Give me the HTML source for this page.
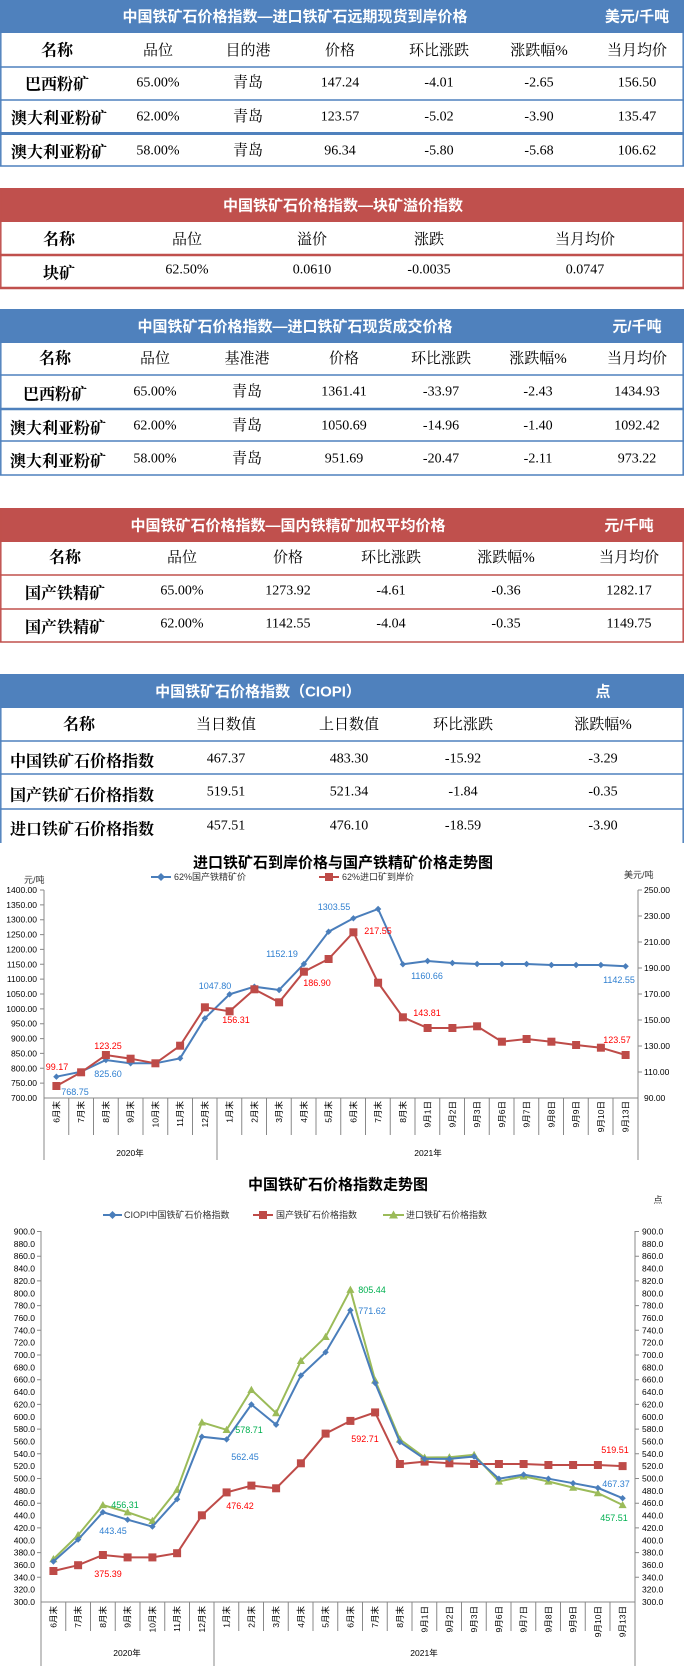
<!DOCTYPE html>
<html><head><meta charset="utf-8"><style>
html,body{margin:0;padding:0;background:#fff;}
svg{display:block;}
.t{font-family:"Liberation Sans","Noto Sans CJK SC",sans-serif;font-weight:bold;font-size:15px;fill:#fff;}
.h{font-family:"Liberation Serif","Noto Serif CJK SC",serif;font-size:15px;fill:#000;}
.n{font-family:"Liberation Serif","Noto Serif CJK SC",serif;font-size:16px;font-weight:bold;fill:#000;}
.d{font-family:"Liberation Serif","Noto Serif CJK SC",serif;font-size:14px;fill:#000;}
.ax{font-family:"Liberation Sans","Noto Sans CJK SC",sans-serif;font-size:8.5px;fill:#000;}
.ct{font-family:"Liberation Sans","Noto Sans CJK SC",sans-serif;font-size:15px;font-weight:bold;fill:#000;}
.lg{font-family:"Liberation Sans","Noto Sans CJK SC",sans-serif;font-size:9px;fill:#333;}
.lb{font-family:"Liberation Sans",sans-serif;font-size:9px;}
</style></head><body>
<svg width="684" height="1666" viewBox="0 0 684 1666" xmlns="http://www.w3.org/2000/svg">
<defs>
<marker id="dm" viewBox="-5 -5 10 10" markerWidth="8" markerHeight="8" refX="0" refY="0" markerUnits="userSpaceOnUse"><path d="M0,-4L4,0L0,4L-4,0Z" fill="#4a7ebb"/></marker>
<marker id="sm" viewBox="-5 -5 10 10" markerWidth="10" markerHeight="10" refX="0" refY="0" markerUnits="userSpaceOnUse"><rect x="-4" y="-4" width="8" height="8" fill="#be4b48"/></marker>
<marker id="tm" viewBox="-5 -5 10 10" markerWidth="9" markerHeight="9" refX="0" refY="0" markerUnits="userSpaceOnUse"><path d="M0,-4.5L4.5,3.5L-4.5,3.5Z" fill="#9bbb59"/></marker>
</defs>
<g dominant-baseline="central" text-anchor="middle">
<!-- Table 1 -->
<rect x="0" y="0" width="684" height="33" fill="#4f81bd"/>
<text class="t" x="295" y="17">中国铁矿石价格指数—进口铁矿石远期现货到岸价格</text>
<text class="t" x="637" y="17">美元/千吨</text>
<g stroke="#4f81bd" stroke-width="1.5"><line x1="0.8" y1="0" x2="0.8" y2="166"/><line x1="683.2" y1="0" x2="683.2" y2="166"/><line x1="0" y1="67" x2="684" y2="67"/><line x1="0" y1="100" x2="684" y2="100"/><line x1="0" y1="133.5" x2="684" y2="133.5" stroke-width="3"/><line x1="0" y1="166" x2="684" y2="166"/></g>
<text class="n" x="57" y="51">名称</text><text class="h" x="158" y="51">品位</text><text class="h" x="248" y="51">目的港</text><text class="h" x="340" y="51">价格</text><text class="h" x="439" y="51">环比涨跌</text><text class="h" x="539" y="51">涨跌幅%</text><text class="h" x="637" y="51">当月均价</text>
<text class="n" x="57" y="85">巴西粉矿</text><text class="d" x="158" y="83">65.00%</text><text class="h" x="248" y="83">青岛</text><text class="d" x="340" y="83">147.24</text><text class="d" x="439" y="83">-4.01</text><text class="d" x="539" y="83">-2.65</text><text class="d" x="637" y="83">156.50</text>
<text class="n" x="11" y="119" text-anchor="start">澳大利亚粉矿</text><text class="d" x="158" y="117">62.00%</text><text class="h" x="248" y="117">青岛</text><text class="d" x="340" y="117">123.57</text><text class="d" x="439" y="117">-5.02</text><text class="d" x="539" y="117">-3.90</text><text class="d" x="637" y="117">135.47</text>
<text class="n" x="11" y="153" text-anchor="start">澳大利亚粉矿</text><text class="d" x="158" y="151">58.00%</text><text class="h" x="248" y="151">青岛</text><text class="d" x="340" y="151">96.34</text><text class="d" x="439" y="151">-5.80</text><text class="d" x="539" y="151">-5.68</text><text class="d" x="637" y="151">106.62</text>
<!-- Table 2 -->
<rect x="0" y="188" width="684" height="34" fill="#c0504d"/>
<text class="t" x="343" y="206">中国铁矿石价格指数—块矿溢价指数</text>
<g stroke="#c0504d" stroke-width="1.5"><line x1="0.8" y1="188" x2="0.8" y2="288"/><line x1="683.2" y1="188" x2="683.2" y2="288"/><line x1="0" y1="255" x2="684" y2="255" stroke-width="2.5"/><line x1="0" y1="288" x2="684" y2="288" stroke-width="2.5"/></g>
<text class="n" x="59" y="240">名称</text><text class="h" x="187" y="240">品位</text><text class="h" x="312" y="240">溢价</text><text class="h" x="429" y="240">涨跌</text><text class="h" x="585" y="240">当月均价</text>
<text class="n" x="59" y="274">块矿</text><text class="d" x="187" y="270">62.50%</text><text class="d" x="312" y="270">0.0610</text><text class="d" x="429" y="270">-0.0035</text><text class="d" x="585" y="270">0.0747</text>
<!-- Table 3 -->
<rect x="0" y="309" width="684" height="34" fill="#4f81bd"/>
<text class="t" x="295" y="327">中国铁矿石价格指数—进口铁矿石现货成交价格</text>
<text class="t" x="637" y="327">元/千吨</text>
<g stroke="#4f81bd" stroke-width="1.5"><line x1="0.8" y1="309" x2="0.8" y2="475"/><line x1="683.2" y1="309" x2="683.2" y2="475"/><line x1="0" y1="375" x2="684" y2="375"/><line x1="0" y1="409" x2="684" y2="409" stroke-width="2.5"/><line x1="0" y1="441" x2="684" y2="441"/><line x1="0" y1="475" x2="684" y2="475"/></g>
<text class="n" x="55" y="359">名称</text><text class="h" x="155" y="359">品位</text><text class="h" x="247" y="359">基准港</text><text class="h" x="344" y="359">价格</text><text class="h" x="441" y="359">环比涨跌</text><text class="h" x="538" y="359">涨跌幅%</text><text class="h" x="637" y="359">当月均价</text>
<text class="n" x="55" y="395">巴西粉矿</text><text class="d" x="155" y="392">65.00%</text><text class="h" x="247" y="392">青岛</text><text class="d" x="344" y="392">1361.41</text><text class="d" x="441" y="392">-33.97</text><text class="d" x="538" y="392">-2.43</text><text class="d" x="637" y="392">1434.93</text>
<text class="n" x="10" y="429" text-anchor="start">澳大利亚粉矿</text><text class="d" x="155" y="426">62.00%</text><text class="h" x="247" y="426">青岛</text><text class="d" x="344" y="426">1050.69</text><text class="d" x="441" y="426">-14.96</text><text class="d" x="538" y="426">-1.40</text><text class="d" x="637" y="426">1092.42</text>
<text class="n" x="10" y="462" text-anchor="start">澳大利亚粉矿</text><text class="d" x="155" y="459">58.00%</text><text class="h" x="247" y="459">青岛</text><text class="d" x="344" y="459">951.69</text><text class="d" x="441" y="459">-20.47</text><text class="d" x="538" y="459">-2.11</text><text class="d" x="637" y="459">973.22</text>
<!-- Table 4 -->
<rect x="0" y="508" width="684" height="34" fill="#c0504d"/>
<text class="t" x="288" y="526">中国铁矿石价格指数—国内铁精矿加权平均价格</text>
<text class="t" x="629" y="526">元/千吨</text>
<g stroke="#c0504d" stroke-width="1.5"><line x1="0.8" y1="508" x2="0.8" y2="642"/><line x1="683.2" y1="508" x2="683.2" y2="642"/><line x1="0" y1="575" x2="684" y2="575"/><line x1="0" y1="609" x2="684" y2="609"/><line x1="0" y1="642" x2="684" y2="642"/></g>
<text class="n" x="65" y="558">名称</text><text class="h" x="182" y="558">品位</text><text class="h" x="288" y="558">价格</text><text class="h" x="391" y="558">环比涨跌</text><text class="h" x="506" y="558">涨跌幅%</text><text class="h" x="629" y="558">当月均价</text>
<text class="n" x="65" y="594">国产铁精矿</text><text class="d" x="182" y="591">65.00%</text><text class="d" x="288" y="591">1273.92</text><text class="d" x="391" y="591">-4.61</text><text class="d" x="506" y="591">-0.36</text><text class="d" x="629" y="591">1282.17</text>
<text class="n" x="65" y="628">国产铁精矿</text><text class="d" x="182" y="624">62.00%</text><text class="d" x="288" y="624">1142.55</text><text class="d" x="391" y="624">-4.04</text><text class="d" x="506" y="624">-0.35</text><text class="d" x="629" y="624">1149.75</text>
<!-- Table 5 -->
<rect x="0" y="674" width="684" height="34" fill="#4f81bd"/>
<text class="t" x="258" y="692">中国铁矿石价格指数（CIOPI）</text>
<text class="t" x="603" y="692">点</text>
<g stroke="#4f81bd" stroke-width="1.5"><line x1="0.8" y1="674" x2="0.8" y2="843"/><line x1="683.2" y1="674" x2="683.2" y2="843"/><line x1="0" y1="741" x2="684" y2="741"/><line x1="0" y1="774" x2="684" y2="774"/><line x1="0" y1="809" x2="684" y2="809"/></g>
<text class="n" x="79" y="725">名称</text><text class="h" x="226" y="725">当日数值</text><text class="h" x="349" y="725">上日数值</text><text class="h" x="463" y="725">环比涨跌</text><text class="h" x="603" y="725">涨跌幅%</text>
<text class="n" x="10" y="762" text-anchor="start">中国铁矿石价格指数</text><text class="d" x="226" y="759">467.37</text><text class="d" x="349" y="759">483.30</text><text class="d" x="463" y="759">-15.92</text><text class="d" x="603" y="759">-3.29</text>
<text class="n" x="10" y="796" text-anchor="start">国产铁矿石价格指数</text><text class="d" x="226" y="792">519.51</text><text class="d" x="349" y="792">521.34</text><text class="d" x="463" y="792">-1.84</text><text class="d" x="603" y="792">-0.35</text>
<text class="n" x="10" y="830" text-anchor="start">进口铁矿石价格指数</text><text class="d" x="226" y="826">457.51</text><text class="d" x="349" y="826">476.10</text><text class="d" x="463" y="826">-18.59</text><text class="d" x="603" y="826">-3.90</text>
</g>

<!-- Chart 1 -->
<g dominant-baseline="central">
<text class="ct" x="343" y="863" text-anchor="middle">进口铁矿石到岸价格与国产铁精矿价格走势图</text>
<line x1="151" y1="877" x2="171" y2="877" stroke="#4a7ebb" stroke-width="2"/><path d="M161,873L165,877L161,881L157,877Z" fill="#4a7ebb"/>
<text class="lg" x="174" y="877">62%国产铁精矿价</text>
<line x1="319" y1="877" x2="339" y2="877" stroke="#be4b48" stroke-width="2"/><rect x="325" y="873" width="8" height="8" fill="#be4b48"/>
<text class="lg" x="342" y="877">62%进口矿到岸价</text>
<text class="lg" x="24" y="880">元/吨</text>
<text class="lg" x="624" y="875">美元/吨</text>
<g stroke="#888" stroke-width="1" fill="none">
<line x1="44" y1="890" x2="44" y2="1160"/><line x1="638" y1="890" x2="638" y2="1160"/><line x1="44" y1="1098" x2="638" y2="1098"/><line x1="217" y1="1098" x2="217" y2="1160"/>
</g>
<g class="ax" text-anchor="end">
<text x="37" y="890">1400.00</text><text x="37" y="904.9">1350.00</text><text x="37" y="919.7">1300.00</text><text x="37" y="934.6">1250.00</text><text x="37" y="949.4">1200.00</text><text x="37" y="964.3">1150.00</text><text x="37" y="979.1">1100.00</text><text x="37" y="994">1050.00</text><text x="37" y="1008.9">1000.00</text><text x="37" y="1023.7">950.00</text><text x="37" y="1038.6">900.00</text><text x="37" y="1053.4">850.00</text><text x="37" y="1068.3">800.00</text><text x="37" y="1083.1">750.00</text><text x="37" y="1098">700.00</text>
</g>
<g class="ax"><text x="644" y="890">250.00</text><text x="644" y="916">230.00</text><text x="644" y="942">210.00</text><text x="644" y="968">190.00</text><text x="644" y="994">170.00</text><text x="644" y="1020">150.00</text><text x="644" y="1046">130.00</text><text x="644" y="1072">110.00</text><text x="644" y="1098">90.00</text></g>
<path stroke="#888" d="M40,890H44M40,904.9H44M40,919.7H44M40,934.6H44M40,949.4H44M40,964.3H44M40,979.1H44M40,994H44M40,1008.9H44M40,1023.7H44M40,1038.6H44M40,1053.4H44M40,1068.3H44M40,1083.1H44M638,890H642M638,916H642M638,942H642M638,968H642M638,994H642M638,1020H642M638,1046H642M638,1072H642M68.75,1098V1135M93.5,1098V1135M118.25,1098V1135M143,1098V1135M167.75,1098V1135M192.5,1098V1135M241.75,1098V1135M266.5,1098V1135M291.25,1098V1135M316,1098V1135M340.75,1098V1135M365.5,1098V1135M390.25,1098V1135M415,1098V1135M439.75,1098V1135M464.5,1098V1135M489.25,1098V1135M514,1098V1135M538.75,1098V1135M563.5,1098V1135M588.25,1098V1135M613,1098V1135"/>
<polyline fill="none" stroke="#4a7ebb" stroke-width="2" marker-start="url(#dm)" marker-mid="url(#dm)" marker-end="url(#dm)" points="56.4,1076.7 81.1,1071.7 105.9,1060 130.6,1063.3 155.4,1063.3 180.1,1058.3 204.9,1018.3 229.6,994.3 254.4,986.7 279.1,990 303.9,964 328.6,931.7 353.4,918.3 378.1,909 402.9,964.3 427.6,961 452.4,963 477.1,964 501.9,964 526.6,964 551.4,965 576.1,965 600.9,965 625.6,966.3"/>
<polyline fill="none" stroke="#be4b48" stroke-width="2" marker-start="url(#sm)" marker-mid="url(#sm)" marker-end="url(#sm)" points="56.4,1086 81.1,1072.3 105.9,1055 130.6,1058.7 155.4,1063.3 180.1,1045.7 204.9,1007.3 229.6,1011.3 254.4,989.3 279.1,1002.3 303.9,971.7 328.6,959 353.4,932.3 378.1,982.7 402.9,1017.3 427.6,1028 452.4,1028 477.1,1026.3 501.9,1041.7 526.6,1039 551.4,1041.7 576.1,1045 600.9,1047.7 625.6,1055"/>
<g class="lb" text-anchor="middle" fill="#2f7fd0">
<text x="75" y="1092">768.75</text><text x="108" y="1074">825.60</text><text x="215" y="986">1047.80</text><text x="282" y="954">1152.19</text><text x="334" y="907">1303.55</text><text x="427" y="976">1160.66</text><text x="619" y="980">1142.55</text>
</g>
<g class="lb" text-anchor="middle" fill="#ff0000">
<text x="57" y="1067">99.17</text><text x="108" y="1046">123.25</text><text x="236" y="1020">156.31</text><text x="317" y="983">186.90</text><text x="378" y="931">217.55</text><text x="427" y="1013">143.81</text><text x="617" y="1040">123.57</text>
</g>
<g class="ax" text-anchor="end">
<text transform="translate(56.4,1101) rotate(-90)">6月末</text><text transform="translate(81.1,1101) rotate(-90)">7月末</text><text transform="translate(105.9,1101) rotate(-90)">8月末</text><text transform="translate(130.6,1101) rotate(-90)">9月末</text><text transform="translate(155.4,1101) rotate(-90)">10月末</text><text transform="translate(180.1,1101) rotate(-90)">11月末</text><text transform="translate(204.9,1101) rotate(-90)">12月末</text><text transform="translate(229.6,1101) rotate(-90)">1月末</text><text transform="translate(254.4,1101) rotate(-90)">2月末</text><text transform="translate(279.1,1101) rotate(-90)">3月末</text><text transform="translate(303.9,1101) rotate(-90)">4月末</text><text transform="translate(328.6,1101) rotate(-90)">5月末</text><text transform="translate(353.4,1101) rotate(-90)">6月末</text><text transform="translate(378.1,1101) rotate(-90)">7月末</text><text transform="translate(402.9,1101) rotate(-90)">8月末</text><text transform="translate(427.6,1101) rotate(-90)">9月1日</text><text transform="translate(452.4,1101) rotate(-90)">9月2日</text><text transform="translate(477.1,1101) rotate(-90)">9月3日</text><text transform="translate(501.9,1101) rotate(-90)">9月6日</text><text transform="translate(526.6,1101) rotate(-90)">9月7日</text><text transform="translate(551.4,1101) rotate(-90)">9月8日</text><text transform="translate(576.1,1101) rotate(-90)">9月9日</text><text transform="translate(600.9,1101) rotate(-90)">9月10日</text><text transform="translate(625.6,1101) rotate(-90)">9月13日</text>
</g>
<text class="ax" x="130" y="1153" text-anchor="middle">2020年</text>
<text class="ax" x="428" y="1153" text-anchor="middle">2021年</text>
</g>

<!-- Chart 2 -->
<g dominant-baseline="central">
<text class="ct" x="338" y="1185" text-anchor="middle">中国铁矿石价格指数走势图</text>
<text class="lg" x="658" y="1200" text-anchor="middle">点</text>
<line x1="103" y1="1215" x2="122" y2="1215" stroke="#4a7ebb" stroke-width="2"/><path d="M112.5,1211L116.5,1215L112.5,1219L108.5,1215Z" fill="#4a7ebb"/>
<text class="lg" x="124" y="1215">CIOPI中国铁矿石价格指数</text>
<line x1="253" y1="1215" x2="273" y2="1215" stroke="#be4b48" stroke-width="2"/><rect x="259" y="1211" width="8" height="8" fill="#be4b48"/>
<text class="lg" x="276" y="1215">国产铁矿石价格指数</text>
<line x1="383" y1="1215" x2="404" y2="1215" stroke="#9bbb59" stroke-width="2"/><path d="M393.5,1210.5L398,1218.5L389,1218.5Z" fill="#9bbb59"/>
<text class="lg" x="406" y="1215">进口铁矿石价格指数</text>
<g stroke="#888" stroke-width="1" fill="none">
<line x1="41" y1="1231" x2="41" y2="1666"/><line x1="635" y1="1231" x2="635" y2="1666"/><line x1="41" y1="1602" x2="635" y2="1602"/><line x1="214" y1="1602" x2="214" y2="1666"/>
</g>
<g class="ax" text-anchor="end" font-size="8">
<text x="35" y="1231.5">900.0</text><text x="35" y="1243.9">880.0</text><text x="35" y="1256.2">860.0</text><text x="35" y="1268.6">840.0</text><text x="35" y="1280.9">820.0</text><text x="35" y="1293.3">800.0</text><text x="35" y="1305.6">780.0</text><text x="35" y="1318">760.0</text><text x="35" y="1330.3">740.0</text><text x="35" y="1342.7">720.0</text><text x="35" y="1355">700.0</text><text x="35" y="1367.4">680.0</text><text x="35" y="1379.7">660.0</text><text x="35" y="1392.1">640.0</text><text x="35" y="1404.4">620.0</text><text x="35" y="1416.8">600.0</text><text x="35" y="1429.1">580.0</text><text x="35" y="1441.5">560.0</text><text x="35" y="1453.8">540.0</text><text x="35" y="1466.2">520.0</text><text x="35" y="1478.5">500.0</text><text x="35" y="1490.9">480.0</text><text x="35" y="1503.2">460.0</text><text x="35" y="1515.6">440.0</text><text x="35" y="1527.9">420.0</text><text x="35" y="1540.3">400.0</text><text x="35" y="1552.6">380.0</text><text x="35" y="1565">360.0</text><text x="35" y="1577.3">340.0</text><text x="35" y="1589.7">320.0</text><text x="35" y="1602">300.0</text>
</g>
<g class="ax" font-size="8">
<text x="642" y="1231.5">900.0</text><text x="642" y="1243.9">880.0</text><text x="642" y="1256.2">860.0</text><text x="642" y="1268.6">840.0</text><text x="642" y="1280.9">820.0</text><text x="642" y="1293.3">800.0</text><text x="642" y="1305.6">780.0</text><text x="642" y="1318">760.0</text><text x="642" y="1330.3">740.0</text><text x="642" y="1342.7">720.0</text><text x="642" y="1355">700.0</text><text x="642" y="1367.4">680.0</text><text x="642" y="1379.7">660.0</text><text x="642" y="1392.1">640.0</text><text x="642" y="1404.4">620.0</text><text x="642" y="1416.8">600.0</text><text x="642" y="1429.1">580.0</text><text x="642" y="1441.5">560.0</text><text x="642" y="1453.8">540.0</text><text x="642" y="1466.2">520.0</text><text x="642" y="1478.5">500.0</text><text x="642" y="1490.9">480.0</text><text x="642" y="1503.2">460.0</text><text x="642" y="1515.6">440.0</text><text x="642" y="1527.9">420.0</text><text x="642" y="1540.3">400.0</text><text x="642" y="1552.6">380.0</text><text x="642" y="1565">360.0</text><text x="642" y="1577.3">340.0</text><text x="642" y="1589.7">320.0</text><text x="642" y="1602">300.0</text>
</g>
<path stroke="#888" d="M37,1231.5H41M37,1256.2H41M37,1280.9H41M37,1305.6H41M37,1330.3H41M37,1355H41M37,1379.7H41M37,1404.4H41M37,1429.1H41M37,1453.8H41M37,1478.5H41M37,1503.2H41M37,1527.9H41M37,1552.6H41M37,1577.3H41M635,1231.5H639M635,1256.2H639M635,1280.9H639M635,1305.6H639M635,1330.3H639M635,1355H639M635,1379.7H639M635,1404.4H639M635,1429.1H639M635,1453.8H639M635,1478.5H639M635,1503.2H639M635,1527.9H639M635,1552.6H639M635,1577.3H639M65.75,1602V1631M90.5,1602V1631M115.25,1602V1631M140,1602V1631M164.75,1602V1631M189.5,1602V1631M238.75,1602V1631M263.5,1602V1631M288.25,1602V1631M313,1602V1631M337.75,1602V1631M362.5,1602V1631M387.25,1602V1631M412,1602V1631M436.75,1602V1631M461.5,1602V1631M486.25,1602V1631M511,1602V1631M535.75,1602V1631M560.5,1602V1631M585.25,1602V1631M610,1602V1631"/>
<polyline fill="none" stroke="#be4b48" stroke-width="2" marker-start="url(#sm)" marker-mid="url(#sm)" marker-end="url(#sm)" points="53.4,1571 78.1,1565.2 102.9,1555 127.6,1557.4 152.4,1557.4 177.1,1553.2 201.9,1515.3 226.6,1492.4 251.4,1485.6 276.1,1488.3 300.9,1463.3 325.6,1433.6 350.4,1420.9 375.1,1412.4 399.9,1464 424.6,1461.6 449.4,1463.3 474.1,1464 498.9,1464 523.6,1464 548.4,1465 573.1,1465 597.9,1465 622.6,1466.1"/>
<polyline fill="none" stroke="#9bbb59" stroke-width="2" marker-start="url(#tm)" marker-mid="url(#tm)" marker-end="url(#tm)" points="53.4,1559.1 78.1,1535.1 102.9,1505 127.6,1512.2 152.4,1520.8 177.1,1489.7 201.9,1422.3 226.6,1429.8 251.4,1389.8 276.1,1413.1 300.9,1360.8 325.6,1336.8 350.4,1289.7 375.1,1380.3 399.9,1439.4 424.6,1457.5 449.4,1457.2 474.1,1454.8 498.9,1481.5 523.6,1476.3 548.4,1481.5 573.1,1487.6 597.9,1493.1 622.6,1505"/>
<polyline fill="none" stroke="#4a7ebb" stroke-width="2" marker-start="url(#dm)" marker-mid="url(#dm)" marker-end="url(#dm)" points="53.4,1561.5 78.1,1539.6 102.9,1512.2 127.6,1519.7 152.4,1526.6 177.1,1499.2 201.9,1436.7 226.6,1439.4 251.4,1404.5 276.1,1424.7 300.9,1375.5 325.6,1352.2 350.4,1310.2 375.1,1383 399.9,1442.1 424.6,1458.9 449.4,1458.9 474.1,1456.5 498.9,1478.7 523.6,1474.6 548.4,1478.7 573.1,1483.2 597.9,1487.9 622.6,1498.2"/>
<g class="lb" text-anchor="middle">
<text x="372" y="1290" fill="#00b050">805.44</text><text x="372" y="1311" fill="#2f7fd0">771.62</text><text x="249" y="1430" fill="#00b050">578.71</text><text x="245" y="1457" fill="#2f7fd0">562.45</text><text x="365" y="1439" fill="#ff0000">592.71</text><text x="125" y="1505" fill="#00b050">456.31</text><text x="113" y="1531" fill="#2f7fd0">443.45</text><text x="108" y="1574" fill="#ff0000">375.39</text><text x="240" y="1506" fill="#ff0000">476.42</text><text x="615" y="1450" fill="#ff0000">519.51</text><text x="616" y="1484" fill="#2f7fd0">467.37</text><text x="614" y="1518" fill="#00b050">457.51</text>
</g>
<g class="ax" text-anchor="end" font-size="8">
<text transform="translate(53.4,1606) rotate(-90)">6月末</text><text transform="translate(78.1,1606) rotate(-90)">7月末</text><text transform="translate(102.9,1606) rotate(-90)">8月末</text><text transform="translate(127.6,1606) rotate(-90)">9月末</text><text transform="translate(152.4,1606) rotate(-90)">10月末</text><text transform="translate(177.1,1606) rotate(-90)">11月末</text><text transform="translate(201.9,1606) rotate(-90)">12月末</text><text transform="translate(226.6,1606) rotate(-90)">1月末</text><text transform="translate(251.4,1606) rotate(-90)">2月末</text><text transform="translate(276.1,1606) rotate(-90)">3月末</text><text transform="translate(300.9,1606) rotate(-90)">4月末</text><text transform="translate(325.6,1606) rotate(-90)">5月末</text><text transform="translate(350.4,1606) rotate(-90)">6月末</text><text transform="translate(375.1,1606) rotate(-90)">7月末</text><text transform="translate(399.9,1606) rotate(-90)">8月末</text><text transform="translate(424.6,1606) rotate(-90)">9月1日</text><text transform="translate(449.4,1606) rotate(-90)">9月2日</text><text transform="translate(474.1,1606) rotate(-90)">9月3日</text><text transform="translate(498.9,1606) rotate(-90)">9月6日</text><text transform="translate(523.6,1606) rotate(-90)">9月7日</text><text transform="translate(548.4,1606) rotate(-90)">9月8日</text><text transform="translate(573.1,1606) rotate(-90)">9月9日</text><text transform="translate(597.9,1606) rotate(-90)">9月10日</text><text transform="translate(622.6,1606) rotate(-90)">9月13日</text>
</g>
<text class="ax" x="127" y="1653" text-anchor="middle">2020年</text>
<text class="ax" x="424" y="1653" text-anchor="middle">2021年</text>
</g>
</svg>
</body></html>
